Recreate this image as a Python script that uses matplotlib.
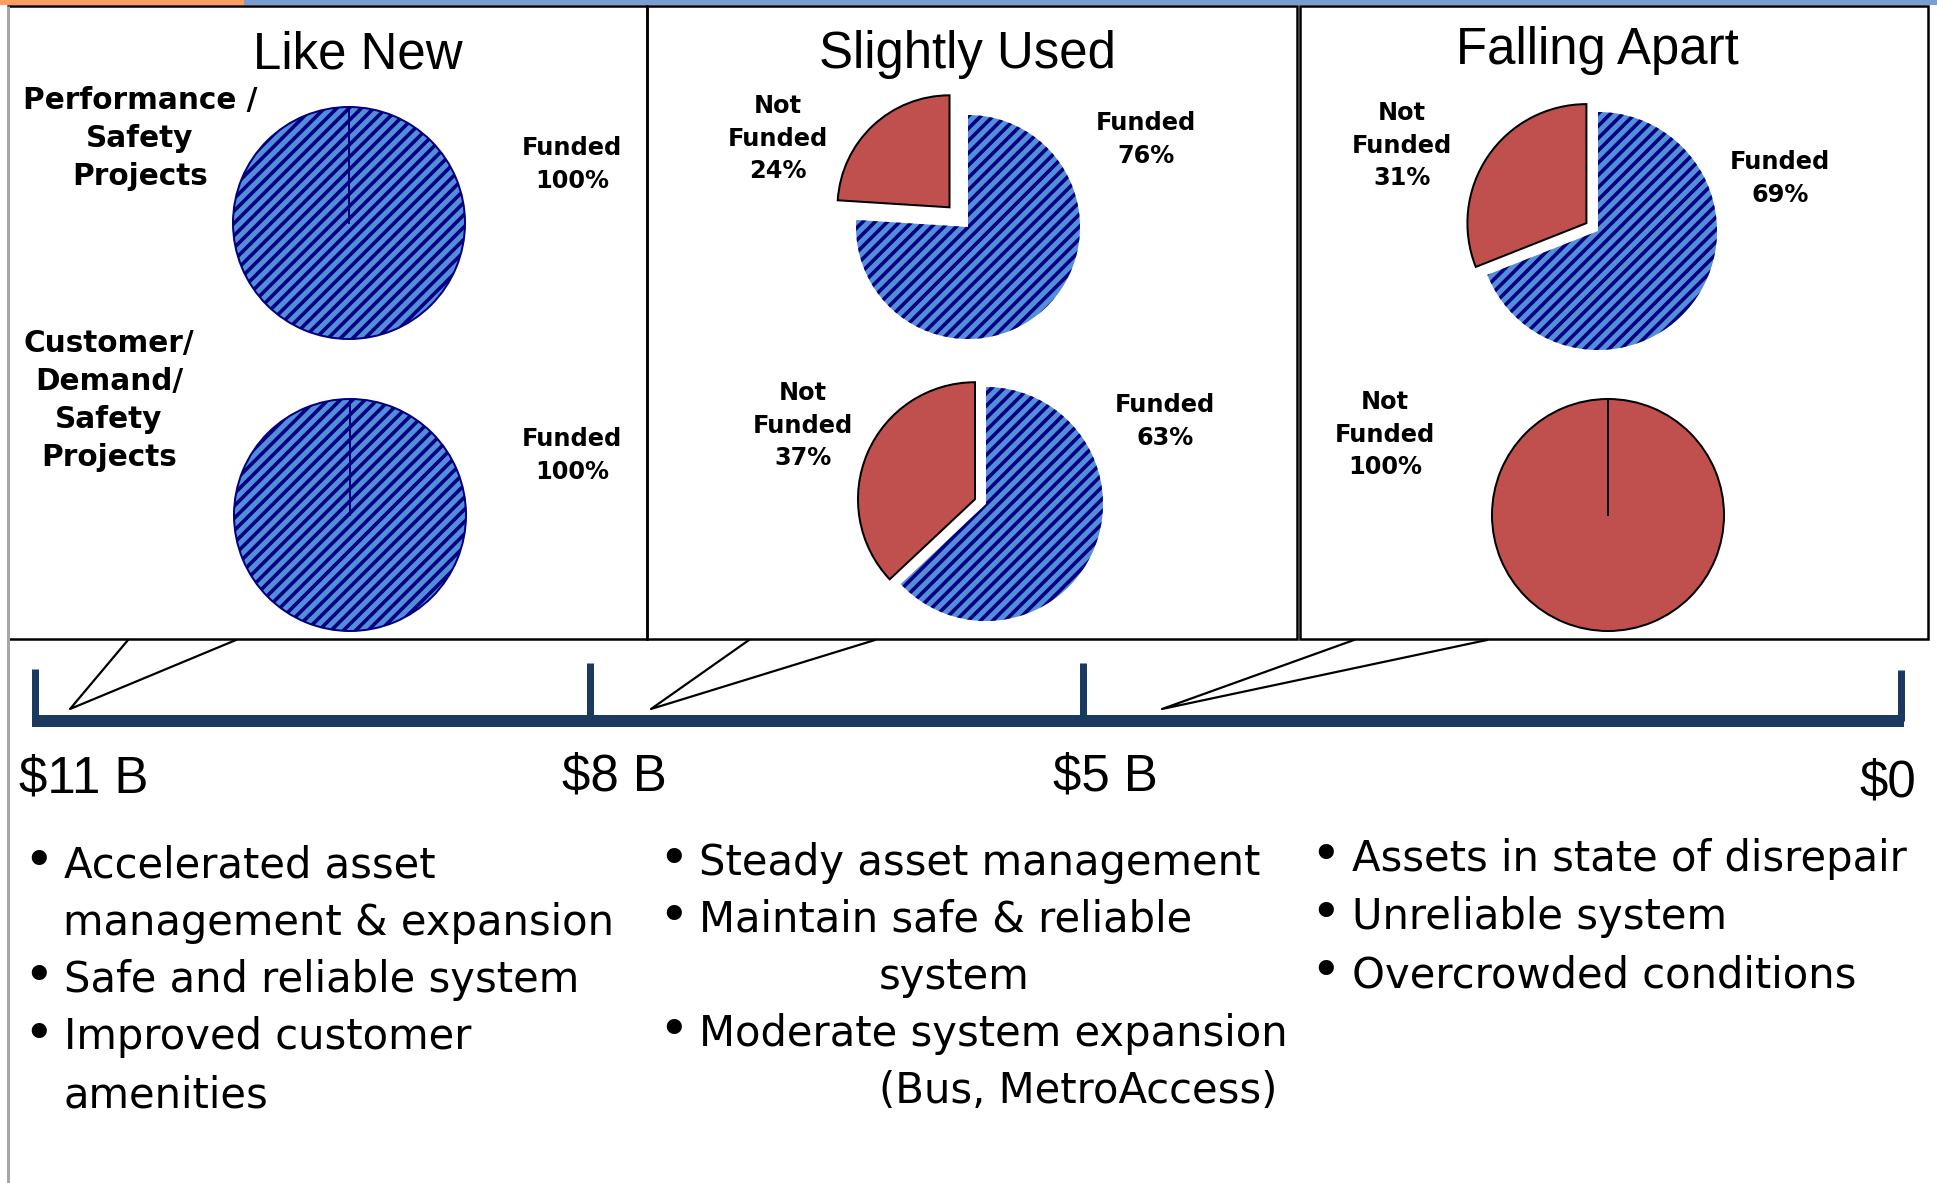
import matplotlib
matplotlib.use("Agg")
import numpy as np
import matplotlib.pyplot as plt
from matplotlib.patches import Rectangle
from matplotlib.collections import LineCollection

# ---------------- data ----------------
panel_titles = ["Like New", "Slightly Used", "Falling Apart"]
category_labels = ["Performance /\nSafety\nProjects",
                   "Customer/\nDemand/\nSafety\nProjects"]
# percentage funded / not funded, per panel, for each project category
perf_funded = [100, 76, 69]
perf_not_funded = [0, 24, 31]
cust_funded = [100, 63, 0]
cust_not_funded = [0, 37, 100]
budget_tick_labels = ["$11 B", "$8 B", "$5 B", "$0"]
like_new_points = [["Accelerated asset", "management & expansion"],
                   ["Safe and reliable system"],
                   ["Improved customer", "amenities"]]
slightly_used_points = [["Steady asset management"],
                        ["Maintain safe & reliable", "system"],
                        ["Moderate system expansion", "(Bus, MetroAccess)"]]
falling_apart_points = [["Assets in state of disrepair"],
                        ["Unreliable system"],
                        ["Overcrowded conditions"]]

# ---------------- style / layout ----------------
W, H = 1937, 1183
DPI = 72
BLUE = "#548DD8"
NAVY = "#000080"
RED = "#C0504D"
BAR = "#1B3A5F"
STRIPE_PERIOD = 12.3   # horizontal distance between stripes (px)
STRIPE_WIDTH = 3.6
HEAD_FONT = ["Liberation Sans", "DejaVu Sans"]
plt.rcParams["font.family"] = ["DejaVu Sans"]

fig = plt.figure(figsize=(W / DPI, H / DPI), dpi=DPI)
ax = fig.add_axes([0, 0, 1, 1])


def Y(v):
    return H - v


def multiline(x, y0, text, step, size, **kw):
    for i, line in enumerate(text.split("\n")):
        ax.text(x, Y(y0 + i * step), line, ha="center", va="baseline",
                fontsize=size, **kw)


def stripe_fill(patch, cx, cy, r):
    x0, x1 = cx - r - 60, cx + r + 60
    y0, y1 = cy - r - 60, cy + r + 60
    cmin, cmax = y0 - x1, y1 - x0
    cs = np.arange(np.floor(cmin / STRIPE_PERIOD) * STRIPE_PERIOD,
                   cmax + STRIPE_PERIOD, STRIPE_PERIOD)
    segs = [[(x0, x0 + c), (x1, x1 + c)] for c in cs]
    lc = LineCollection(segs, colors=NAVY, linewidths=STRIPE_WIDTH,
                        capstyle="butt", zorder=1.5)
    lc.set_clip_path(patch)
    ax.add_collection(lc)


# top strip
ax.add_patch(Rectangle((0, Y(5)), 244, 5, color="#FF9C5E", lw=0))
ax.add_patch(Rectangle((244, Y(5)), W - 244, 5, color="#7C9CD4", lw=0))

# panels
panel_x = [(8, 647), (647, 1297), (1300, 1928)]
for (x0, x1) in panel_x:
    ax.add_patch(Rectangle((x0, Y(639)), x1 - x0, 633, fill=False,
                           ec="black", lw=2.5))
ax.plot([8, 8], [Y(6), 0], color="#A6A6A6", lw=3, solid_capstyle="butt")

# titles
title_pos = [(358, 68), (967, 68), (1597, 64)]
for t, (x, y) in zip(panel_titles, title_pos):
    ax.text(x, Y(y), t, ha="center", va="baseline", fontsize=51,
            family=HEAD_FONT)

# category labels
cat_pos = [(140, 109), (109, 352)]
for lab, (x, y) in zip(category_labels, cat_pos):
    multiline(x, y, lab, 38, 29.5, fontweight="bold")

# pies: center x, center y, radius, explode offset of the "not funded" slice (px)
pie_layout = {
    (0, 0): (349, 223, 116, 0), (0, 1): (350, 515, 116, 0),
    (1, 0): (968, 227, 112, 27), (1, 1): (986, 504, 117, 12),
    (2, 0): (1598, 231, 119, 14), (2, 1): (1608, 515, 116, 0),
}
funded_label_pos = {(0, 0): (572, 155), (0, 1): (572, 446),
                    (1, 0): (1146, 130), (1, 1): (1165, 412),
                    (2, 0): (1780, 169), (2, 1): (1780, 446)}
not_funded_label_pos = {(0, 0): (778, 113), (0, 1): (803, 400),
                        (1, 0): (778, 113), (1, 1): (803, 400),
                        (2, 0): (1402, 120), (2, 1): (1385, 409)}

series = [(perf_funded, perf_not_funded), (cust_funded, cust_not_funded)]
for row, (fund, notf) in enumerate(series):
    for p in range(3):
        cx, cy, r, ex = pie_layout[(p, row)]
        vals = [fund[p], notf[p]]
        keep = [i for i, v in enumerate(vals) if v > 0]
        wedges, _ = ax.pie([vals[i] for i in keep], startangle=90,
                           counterclock=False,
                           explode=[0 if i == 0 else ex for i in keep],
                           center=(cx, Y(cy)), radius=r, frame=False)
        single = len(keep) == 1
        for w, i in zip(wedges, keep):
            if i == 0:
                w.set_facecolor(BLUE)
                w.set_edgecolor(NAVY)
                w.set_linewidth(2 if single else 0)
                stripe_fill(w, cx, Y(cy), r)
            else:
                w.set_facecolor(RED)
                w.set_edgecolor("black")
                w.set_linewidth(2)
        if single:
            col = NAVY if keep[0] == 0 else "black"
            ax.plot([cx, cx], [Y(cy), Y(cy) + r], color=col, lw=2, zorder=3)
        if fund[p] > 0:
            fx, fy = funded_label_pos[(p, row)]
            multiline(fx, fy, f"Funded\n{fund[p]}%", 32.5, 24,
                      fontweight="bold")
        if notf[p] > 0:
            nx, ny = not_funded_label_pos[(p, row)]
            multiline(nx, ny, f"Not\nFunded\n{notf[p]}%", 32.5, 24,
                      fontweight="bold")

# callout lines
callouts = [((70, 709), (128, 640), (236, 640)),
            ((651, 709), (749, 640), (875, 640)),
            ((1162, 709), (1354, 640), (1487, 640))]
for apex, a, b in callouts:
    ax.plot([a[0], apex[0], b[0]], [Y(a[1]), Y(apex[1]), Y(b[1])],
            color="black", lw=2.2)

# budget scale
ax.plot([32, 1904], [Y(720.5), Y(720.5)], color=BAR, lw=12,
        solid_capstyle="butt")
tick_x = [35, 590, 1083, 1901]
tick_top = [669, 663, 663, 670]
for x, t in zip(tick_x, tick_top):
    ax.plot([x, x], [Y(t), Y(721)], color=BAR, lw=7, solid_capstyle="butt")
tick_label_pos = [(19, 793, "left"), (562, 790, "left"),
                  (1053, 790, "left"), (1916, 797, "right")]
for lab, (x, y, ha) in zip(budget_tick_labels, tick_label_pos):
    ax.text(x, Y(y), lab, ha=ha, va="baseline", fontsize=51,
            family=HEAD_FONT)

# bullet lists
points = [like_new_points, slightly_used_points, falling_apart_points]
bullet_x = [39, 674, 1326]
text_x = [64, 699, 1352]
cont_x = [63, 879, 1352]
first_base = [877, 875, 871]
step = [57.5, 57.0, 58.0]
for p in range(3):
    k = 0
    for item in points[p]:
        for j, line in enumerate(item):
            yb = first_base[p] + k * step[p]
            if j == 0:
                ax.text(bullet_x[p], Y(yb), "\u2022", ha="center",
                        va="baseline", fontsize=52)
                ax.text(text_x[p], Y(yb), line, ha="left", va="baseline",
                        fontsize=41.7)
            else:
                ax.text(cont_x[p], Y(yb), line, ha="left", va="baseline",
                        fontsize=41.7)
            k += 1

ax.set_xlim(0, W)
ax.set_ylim(0, H)
ax.set_aspect("auto")
ax.axis("off")
fig.savefig("out.png", dpi=DPI, facecolor="white")
